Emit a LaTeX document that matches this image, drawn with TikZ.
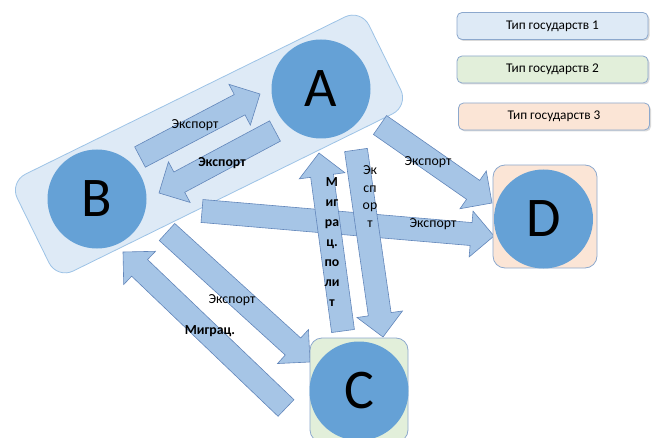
\documentclass[tikz,border=0pt]{standalone}
\usepackage{fontspec}
\setmainfont{Carlito}
\usetikzlibrary{calc,shadows}

\definecolor{circblue}{RGB}{101,161,214}
\definecolor{grpfill}{RGB}{222,234,246}
\definecolor{grpedge}{RGB}{157,195,230}
\definecolor{arrfill}{RGB}{166,197,230}
\definecolor{arredge}{RGB}{98,134,186}
\definecolor{legedge}{RGB}{140,168,205}
\definecolor{greenish}{RGB}{226,239,218}
\definecolor{peach}{RGB}{251,229,214}

% block arrow from tail #1 to tip #2
\newcommand{\blockarrow}[2]{%
  \coordinate (hb) at ($(#2)!23pt!(#1)$);
  \draw[blockarr] ($(#1)!11.5pt!90:(#2)$) -- ($(hb)!11.5pt!-90:(#1)$) -- ($(hb)!23pt!-90:(#1)$) -- (#2)
    -- ($(hb)!23pt!90:(#1)$) -- ($(hb)!11.5pt!90:(#1)$) -- ($(#1)!11.5pt!-90:(#2)$) -- cycle;}

\begin{document}
\begin{tikzpicture}[x=1pt, y=-1pt, state/.style={circle, fill=circblue, minimum size=99pt, inner sep=0pt, font=\fontsize{56}{60}\selectfont}, blockarr/.style={fill=arrfill, draw=arredge, line width=0.6pt}, legend/.style={rectangle, rounded corners=5pt, draw=legedge, line width=0.8pt, minimum width=191pt, minimum height=27pt, font=\fontsize{13.3}{15}\selectfont, drop shadow={opacity=0.3, shadow xshift=1.5pt, shadow yshift=-1.5pt}}, sq/.style={rectangle, rounded corners=12pt, draw=legedge, line width=0.8pt}, lbl/.style={font=\fontsize{13.8}{15}\selectfont, inner sep=1pt}]
\useasboundingbox (0,0) rectangle (655,438);
\clip (0,0) rectangle (655,438);

% group of A and B
\node[rectangle, rounded corners=18pt, fill=grpfill, draw=grpedge, line width=0.8pt, rotate=26.2, minimum width=392pt, minimum height=108pt] (grp) at (209,144) {};

% legend
\node[legend, fill=grpfill] (leg1) at (552.5,26) {Тип государств 1};
\node[legend, fill=greenish] (leg2) at (552.5,69.5) {Тип государств 2};
\node[legend, fill=peach] (leg3) at (554,116.5) {Тип государств 3};

% arrow ends
\coordinate (s1) at (140,157); \coordinate (e1) at (260,94);
\coordinate (s2) at (275,131); \coordinate (e2) at (159,193);
\coordinate (s6) at (202,211); \coordinate (e6) at (494,236);
\coordinate (s3) at (343,331); \coordinate (e3) at (319,153);
\coordinate (s4) at (356,150); \coordinate (e4) at (383,337);
\coordinate (s5) at (380,125); \coordinate (e5) at (492,203);
\coordinate (s7) at (167,232); \coordinate (e7) at (310,362);
\coordinate (s8) at (286,408); \coordinate (e8) at (123,252);

\blockarrow{s1}{e1}
\blockarrow{s2}{e2}
\blockarrow{s6}{e6}
\blockarrow{s3}{e3}
\blockarrow{s4}{e4}
\blockarrow{s5}{e5}
\blockarrow{s7}{e7}
\blockarrow{s8}{e8}

% states
\node[state] (A) at (321,89) {A};
\node[state] (B) at (97,199) {B};
\node[sq, fill=peach, minimum width=104pt, minimum height=103pt] (Dbox) at (545,216.5) {};
\node[state] (D) at (543.5,219) {D};
\node[sq, fill=greenish, minimum width=98pt, minimum height=104pt] (Cbox) at (359,390) {};
\node[state] (C) at (359,391) {C};

% labels
\node[lbl] (l1) at (195,125) {Экспорт};
\node[lbl, font=\fontsize{13.8}{15}\selectfont\bfseries] (l2) at (222,163) {Экспорт};
\node[lbl, font=\fontsize{13.8}{20}\selectfont\bfseries, align=center] (l3) at (332,242) {М\\иг\\ра\\ц.\\по\\ли\\т};
\node[lbl, font=\fontsize{13.8}{17.5}\selectfont, align=center] (l4) at (370,196.5) {Эк\\сп\\ор\\т};
\node[lbl] (l5) at (428,162) {Экспорт};
\node[lbl] (l6) at (433,224) {Экспорт};
\node[lbl] (l7) at (232,300) {Экспорт};
\node[lbl, font=\fontsize{13.8}{15}\selectfont\bfseries] (l8) at (210,331) {Миграц.};
\end{tikzpicture}
\end{document}
